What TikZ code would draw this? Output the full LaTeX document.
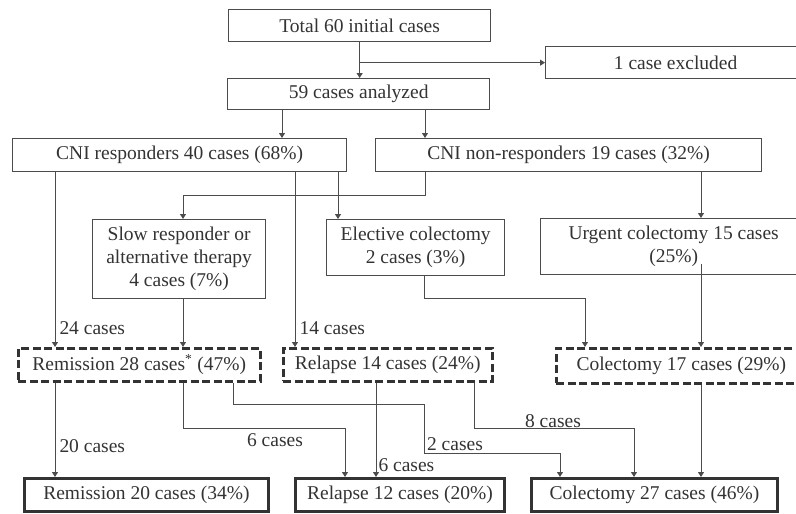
\documentclass[tikz,border=0pt]{standalone}
\usepackage{fontspec}
\setmainfont{Liberation Serif}
\usetikzlibrary{shapes,arrows.meta,positioning}
\definecolor{ink}{rgb}{.2,.2,.2}
\definecolor{wire}{rgb}{.3,.3,.3}

\begin{document}
\begin{tikzpicture}[x=1pt,y=-1pt,% pixel grid, y grows downwards
      every node/.style={
        align=center,     % use this so that the "\\" for line break works
        inner sep=0pt,
        text=ink,
        font=\fontsize{19.5}{23}\selectfont
      },
      box/.style={rectangle,draw=wire,line width=1.3pt,anchor=north west},
      dbox/.style={box,draw=ink,line width=2.6pt,dash pattern=on 8pt off 3.5pt},
      tbox/.style={box,draw=ink,line width=3pt},
      link/.style={draw=wire,line width=1pt},
      every edge/.style={link},
      >={Triangle[length=5pt,width=6pt]}
    ]
    \useasboundingbox (0,0) rectangle (796,514);
    \clip (0,0) rectangle (796,514);
    % columns and bend heights
    \coordinate (p1) at (282,0);
    \coordinate (p2) at (425,0);
    \coordinate (q1) at (55,0);
    \coordinate (q2) at (295,0);
    \coordinate (q3) at (338,0);
    \coordinate (q4) at (183,0);
    \coordinate (q5) at (701,0);
    \coordinate (q6) at (424,0);
    \coordinate (q7) at (585,0);
    \coordinate (q8) at (233,0);
    \coordinate (q9) at (345,0);
    \coordinate (q10) at (376,0);
    \coordinate (q11) at (474,0);
    \coordinate (q12) at (634,0);
    \coordinate (q13) at (560,0);
    \coordinate (h1) at (0,195);
    \coordinate (h2) at (0,298);
    \coordinate (h3) at (0,428);
    \coordinate (h4) at (0,404);
    \coordinate (h5) at (0,453);

    \node[box,minimum width=262,minimum height=32](R1) at (228,9){Total 60 initial cases};
    \node[box,minimum width=260,minimum height=32](R2) at (545,46){1 case excluded};
    \node[box,minimum width=262,minimum height=31](R3) at (227,78){59 cases analyzed};
    \node[box,minimum width=334,minimum height=33](R4) at (12,138){CNI responders 40 cases (68\%)};
    \node[box,minimum width=386,minimum height=33](R5) at (375,138){CNI non-responders 19 cases (32\%)};
    \node[box,minimum width=173,minimum height=79](R6) at (92,219){Slow responder or\\
      alternative therapy\\ 4 cases (7\%)};
    \node[box,minimum width=178,minimum height=56](R7) at (326,219){Elective colectomy\\ 2 cases (3\%)};
    \node[box,minimum width=266,minimum height=56](R8) at (540,218){Urgent colectomy 15 cases\\ (25\%)};
    \node[dbox,minimum width=242,minimum height=33](R9) at (17,347){Remission 28 cases\textsuperscript{*} (47\%)};
    \node[dbox,minimum width=209,minimum height=33](R10) at (282,347){Relapse 14 cases (24\%)};
    \node[dbox,minimum width=250,minimum height=35](R11) at (555,347){Colectomy 17 cases (29\%)};
    \node[tbox,minimum width=244,minimum height=33](R12) at (23,477){Remission 20 cases (34\%)};
    \node[tbox,minimum width=209,minimum height=33](R13) at (294,477){Relapse 12 cases (20\%)};
    \node[tbox,minimum width=246,minimum height=33](R14) at (530,477){Colectomy 27 cases (46\%)};

    \path[->]
    (R1.south)edge [] (R1.south |- R3.north)
    (R1.south |- R2.west)edge [] (R2.west)
    (R3.south -| p1)edge [] (R4.north -| p1)
    (R3.south -| p2)edge [] (R5.north -| p2)
    (R4.south -| q1)edge [] node [pos=.89,right=4pt] {24 cases} (R9.north -| q1)
    (R4.south -| q2)edge [] node [pos=.89,right=4pt] {14 cases} (R10.north -| q2)
    (R4.south -| q3)edge [] (R7.north -| q3)
    (R5.south -| q5)edge [] (R8.north -| q5)
    (R6.south -| q4)edge [] (R9.north -| q4)
    ([yshift=11pt]R8.south -| q5)edge [] (R11.north -| q5)
    (R9.south -| q1)edge [] node [pos=.67,right=4pt] {20 cases} (R12.north -| q1)
    (R10.south -| q10)edge [] node [pos=.87,right=2pt] {6 cases} (R13.north -| q10)
    (R11.south -| q5)edge [] (R14.north -| q5)
    ;
    \draw[link,->] (R5.south -| p2) |- (h1 -| q4) -- (R6.north -| q4);
    \draw[link,->] (R7.south -| q6) |- (h2 -| q7) -- (R11.north -| q7);
    \draw[link,->] (R9.south -| q4) |- (h3 -| q9) -- (R13.north -| q9);
    \draw[link,->] (R9.south -| q8) |- (h4 -| q6) |- (h5 -| q13) -- (R14.north -| q13);
    \draw[link,->] (R10.south -| q11) |- (h3 -| q12) -- (R14.north -| q12);
    % labels on the bent links
    \node (L1) at (275,440) {6 cases};
    \node (L2) at (455,444) {2 cases};
    \node (L3) at (553,421) {8 cases};
  \end{tikzpicture}
\end{document}
